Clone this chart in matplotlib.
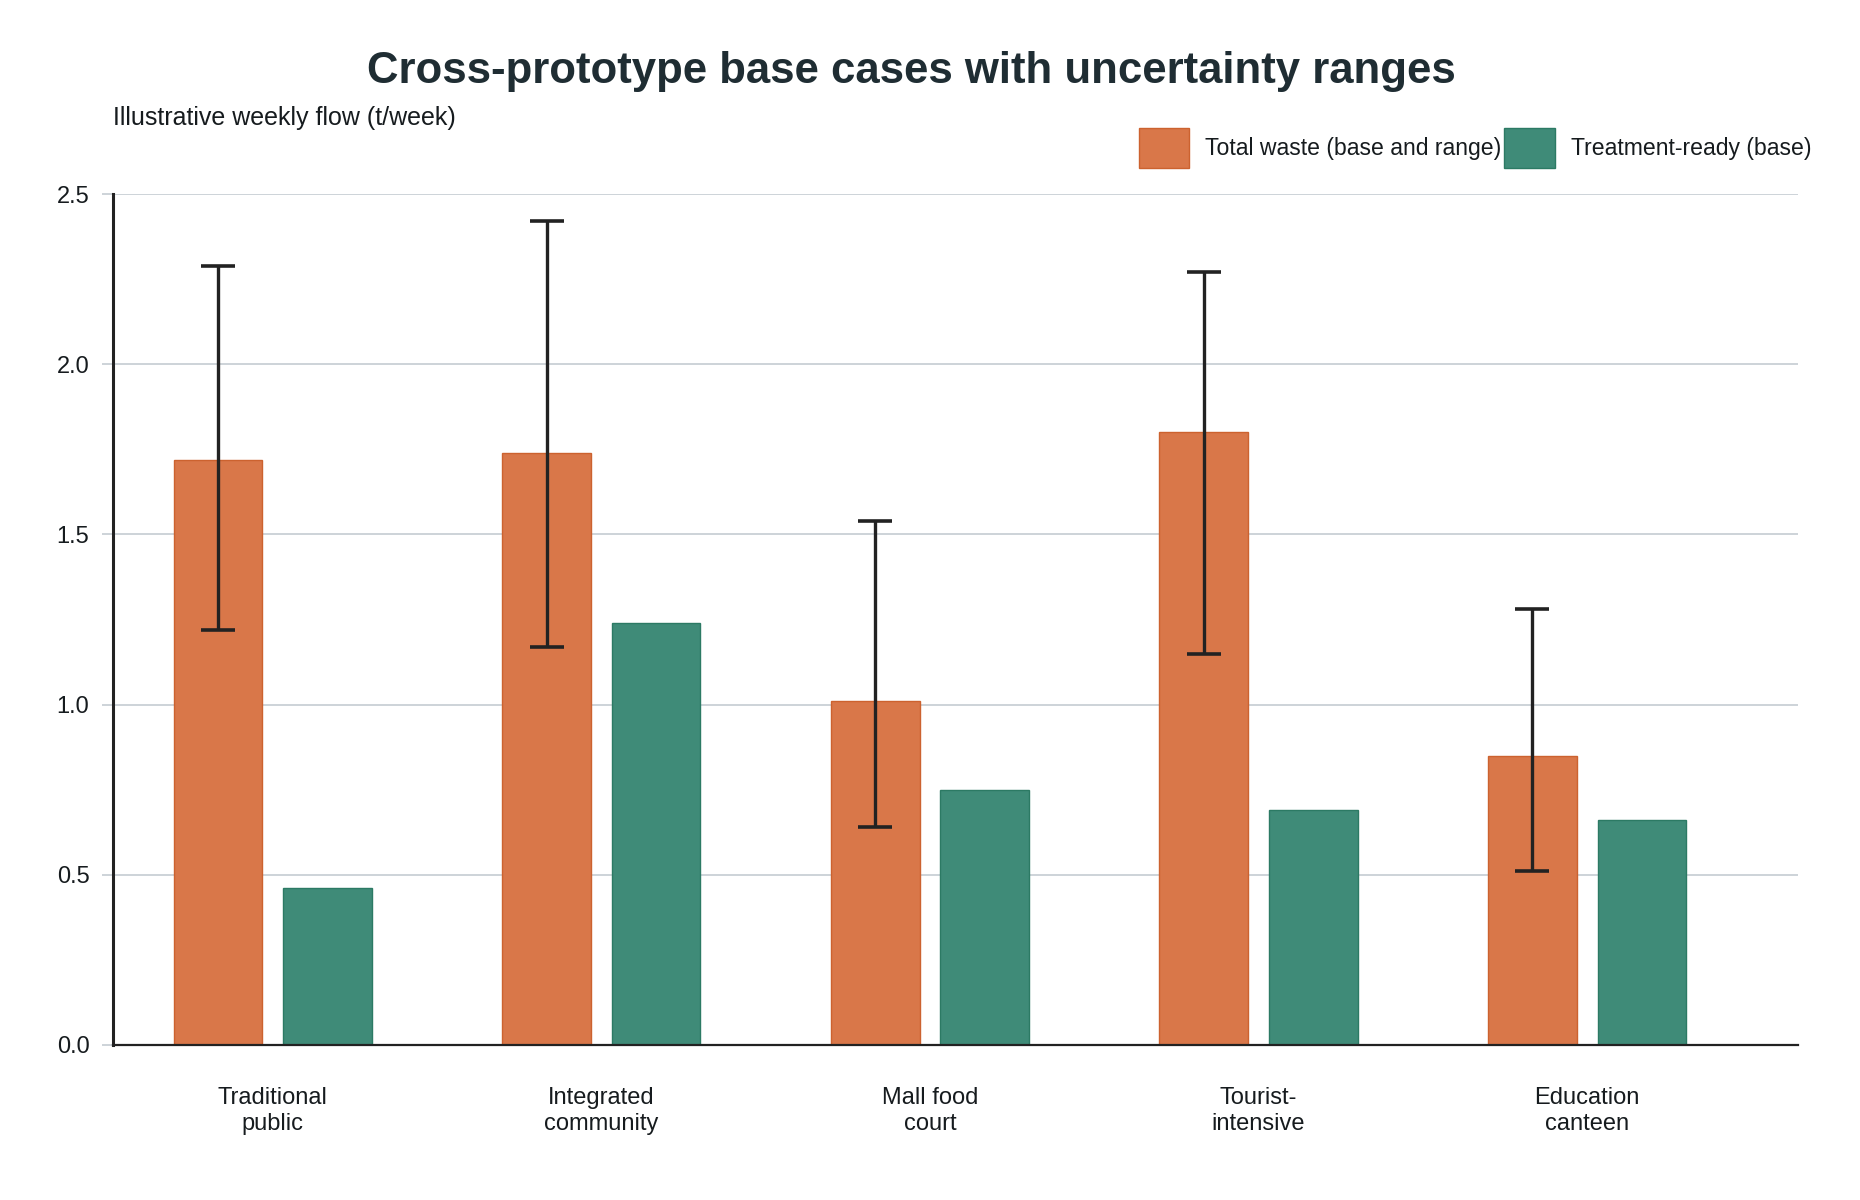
import matplotlib
matplotlib.use("Agg")
import matplotlib.pyplot as plt
import numpy as np
from matplotlib.patches import Patch

plt.rcParams['font.family'] = ['Liberation Sans', 'DejaVu Sans']

categories = ["Traditional\npublic", "Integrated\ncommunity", "Mall food\ncourt",
              "Tourist-\nintensive", "Education\ncanteen"]
total_base = [1.72, 1.74, 1.01, 1.80, 0.85]
total_low = [1.22, 1.17, 0.64, 1.15, 0.51]
total_high = [2.29, 2.42, 1.54, 2.27, 1.28]
treat_base = [0.46, 1.24, 0.75, 0.69, 0.66]
y_ticks = [0.0, 0.5, 1.0, 1.5, 2.0, 2.5]

ORANGE = "#d97749"
ORANGE_EDGE = "#cc622f"
GREEN = "#3f8b78"
GREEN_EDGE = "#2c7a64"
DARK = "#222222"
TEXT = "#161b1e"
GRID = "#cdd3d8"

fig = plt.figure(figsize=(18.6, 12), dpi=100)
ax = fig.add_axes([0.0608, 0.1292, 0.9059, 0.7091])

x = np.arange(len(categories))
w = 0.27
off = 0.1667

ax.bar(x - off, total_base, width=w, color=ORANGE, edgecolor=ORANGE_EDGE, linewidth=1.0, zorder=2)
ax.bar(x + off, treat_base, width=w, color=GREEN, edgecolor=GREEN_EDGE, linewidth=1.0, zorder=2)

tb = np.array(total_base)
lo = tb - np.array(total_low)
hi = np.array(total_high) - tb
ax.errorbar(x - off, tb, yerr=[lo, hi], fmt='none', ecolor=DARK, elinewidth=2.4,
            capsize=12.2, capthick=2.6, zorder=3)

ax.set_xlim(-0.486, 4.642)
ax.set_ylim(0, 2.5)
ax.set_yticks(y_ticks)
ax.set_yticklabels([f"{v:.1f}" for v in y_ticks])
ax.set_xticks(x)
ax.set_xticklabels(categories, linespacing=1.25)

ax.yaxis.grid(True, color=GRID, linewidth=1.4, zorder=0)
ax.xaxis.grid(False)
ax.set_axisbelow(True)

for s in ['top', 'right']:
    ax.spines[s].set_visible(False)
ax.spines['left'].set_color(DARK)
ax.spines['left'].set_linewidth(2.2)
ax.spines['bottom'].set_color(DARK)
ax.spines['bottom'].set_linewidth(1.6)

ax.tick_params(axis='y', length=8, width=1.4, color=GRID, pad=9, labelsize=17, labelcolor=TEXT)
ax.tick_params(axis='x', length=0, pad=30, labelsize=17, labelcolor=TEXT)

fig.text(0.49, 0.931, "Cross-prototype base cases with uncertainty ranges",
         ha='center', va='baseline', fontsize=31.5, fontweight='bold', color="#1f2d33")
fig.text(0.0608, 0.896, "Illustrative weekly flow (t/week)", ha='left', va='baseline',
         fontsize=18, color=TEXT)

handles = [Patch(facecolor=ORANGE, edgecolor=ORANGE_EDGE, linewidth=1.0, label="Total waste (base and range)"),
           Patch(facecolor=GREEN, edgecolor=GREEN_EDGE, linewidth=1.0, label="Treatment-ready (base)")]
fig.legend(handles=handles, loc='center right', bbox_to_anchor=(0.9737, 0.8767), ncol=2,
           frameon=False, fontsize=16.6, handlelength=2.2, handleheight=2.3,
           handletextpad=0.68, columnspacing=0.13, borderpad=0, borderaxespad=0,
           labelcolor=TEXT)

fig.savefig("out.png", dpi=100, facecolor='white')
